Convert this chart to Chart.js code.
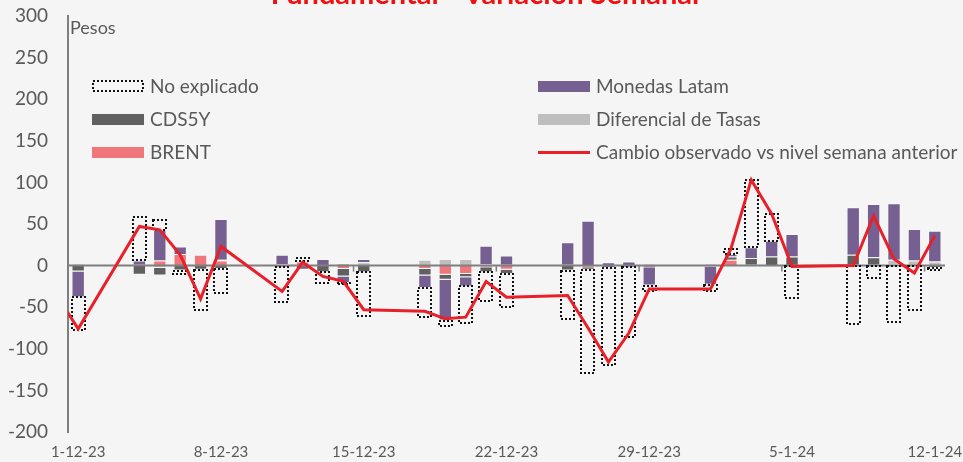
<!DOCTYPE html>
<html lang="es">
<head>
<meta charset="utf-8">
<title>Fundamental - Variación Semanal</title>
<script src="https://cdn.jsdelivr.net/npm/chart.js@4.4.1/dist/chart.umd.min.js"></script>
<style>
  html, body { margin: 0; padding: 0; background: #f5f5f5; }
  #grafico { display: block; }
</style>
</head>
<body>
<canvas id="grafico" width="963" height="462"></canvas>
<script>
// fechas (dias habiles) y componentes de la variacion semanal, en pesos
const fechas = ['30-11-23', '1-12-23', '4-12-23', '5-12-23', '6-12-23', '7-12-23', '8-12-23',
  '11-12-23', '12-12-23', '13-12-23', '14-12-23', '15-12-23',
  '18-12-23', '19-12-23', '20-12-23', '21-12-23', '22-12-23',
  '25-12-23', '26-12-23', '27-12-23', '28-12-23', '29-12-23',
  '1-1-24', '2-1-24', '3-1-24', '4-1-24', '5-1-24',
  '8-1-24', '9-1-24', '10-1-24', '11-1-24', '12-1-24'];

const brent       = [null, 2, 1, 6, 14, 13, 6, 2, 5, 0, -4, 0, -4, -11, -10, -2, -5, 0, -2, 0, 0, 2, 2, 7, 1, 0, 0, 0, 0, 1, 0, 0];
const difTasas    = [null, 0, 0, -3, 0, 0, 1, 0, 0, 0, 3, 4, 7, 8, 8, 2, 1, 1, 0, 0, 0, 0, 0, 0, 0, 0, 0, 1, 1, 6, 6, 5];
const cds5y       = [null, -7, -11, -9, -6, -5, -4, -2, 0, -8, -9, -8, -8, -6, -4, -6, -5, -6, -3, -3, -2, -2, -1, 4, 8, 11, 11, 12, 9, 0, 0, -3];
const monedas     = [null, -31, 5, 37, 9, 0, 49, 11, -5, 8, -8, 4, -15, -49, -11, 22, 11, 27, 54, 4, 5, -22, -22, 3, 13, 19, 27, 57, 64, 68, 38, 37];
const noExplicado = [null, -40, 52, 12, -4, -48, -29, -42, 4, -13, -1, -53, -35, -6, -45, -35, -40, -58, -124, -117, -84, -6, -7, 6, 81, 32, -39, -70, -14, -67, -53, -3];
const cambio      = [-38, -76, 47, 43, 13, -40, 23, -31, 4, -13, -19, -53, -55, -64, -62, -19, -38, -36, -75, -116, -81, -28, -28, 20, 103, 62, -1, 0, 60, 8, -9, 36];

const etiquetasX = ['1-12-23', '8-12-23', '15-12-23', '22-12-23', '29-12-23', '5-1-24', '12-1-24'];
const ticksY = [-200, -150, -100, -50, 0, 50, 100, 150, 200, 250, 300];

const ordenLeyenda = ['No explicado', 'CDS5Y', 'BRENT', 'Monedas Latam', 'Diferencial de Tasas', 'Cambio observado vs nivel semana anterior'];

// dias corridos desde el 1-12-23
function diaIndex(s) {
  const [d, m, a] = s.split('-').map(Number);
  return Math.round((Date.UTC(2000 + a, m - 1, d) - Date.UTC(2023, 11, 1)) / 864e5);
}

function serie(valores) {
  return fechas.map((f, i) => ({ x: diaIndex(f), y: valores[i] })).filter(p => p.y !== null);
}

const gris = '#595959';

// cajas punteadas del "No explicado", linea del cero y marcas semanales
const detalles = {
  id: 'detalles',
  beforeDatasetDraw(chart, args) {
    if (args.meta.type !== 'line') return;
    const { ctx, chartArea, scales } = chart;
    const y0 = scales.y.getPixelForValue(0);
    ctx.save();
    ctx.strokeStyle = '#7f7f7f';
    ctx.lineWidth = 2;
    ctx.beginPath();
    ctx.moveTo(chartArea.left, y0);
    ctx.lineTo(chartArea.right, y0);
    ctx.stroke();

    ctx.lineWidth = 1.5;
    etiquetasX.slice(2).forEach(e => {
      const x = scales.x.getPixelForValue(diaIndex(e) - 0.5);
      ctx.beginPath();
      ctx.moveTo(x, y0);
      ctx.lineTo(x, y0 + 6);
      ctx.stroke();
    });

    const idx = chart.data.datasets.findIndex(d => d.label === 'No explicado');
    const meta = chart.getDatasetMeta(idx);
    ctx.strokeStyle = '#111';
    ctx.lineWidth = 2;
    ctx.setLineDash([2, 2]);
    meta.data.forEach(el => {
      const { x, y, base, width } = el.getProps(['x', 'y', 'base', 'width'], true);
      const h = Math.round(Math.abs(base - y));
      if (h < 1) return;
      ctx.strokeRect(Math.round(x - width / 2), Math.round(Math.min(y, base)), Math.round(width), h);
    });
    ctx.restore();
  }
};

// leyenda en dos columnas dentro del area del grafico, titulo y unidad
const leyenda = {
  id: 'leyenda',
  afterDraw(chart) {
    const ctx = chart.ctx;
    const filas = [86, 119, 152];
    const columnas = [92, 538];
    ctx.save();
    ordenLeyenda.forEach((nombre, i) => {
      const d = chart.data.datasets.find(x => x.label === nombre);
      const x0 = columnas[Math.floor(i / 3)];
      const y0 = filas[i % 3];
      if (d.type === 'line') {
        ctx.strokeStyle = d.borderColor;
        ctx.lineWidth = 3;
        ctx.beginPath();
        ctx.moveTo(x0, y0 + 0.5);
        ctx.lineTo(x0 + 52, y0 + 0.5);
        ctx.stroke();
      } else if (nombre === 'No explicado') {
        ctx.strokeStyle = '#111';
        ctx.lineWidth = 2;
        ctx.setLineDash([2, 2]);
        ctx.strokeRect(x0 + 1, y0 - 5, 50, 10);
        ctx.setLineDash([]);
      } else {
        ctx.fillStyle = d.backgroundColor;
        ctx.fillRect(x0, y0 - 5, 52, 11);
      }
      ctx.fillStyle = gris;
      ctx.font = '19px Lato';
      ctx.textAlign = 'left';
      ctx.textBaseline = 'middle';
      ctx.fillText(nombre, x0 + 58, y0 + 1);
    });

    ctx.font = '18px Lato';
    ctx.fillStyle = gris;
    ctx.textBaseline = 'middle';
    ctx.fillText('Pesos', chart.chartArea.left + 2, 28);

    ctx.font = 'bold 29px Lato';
    ctx.fillStyle = '#f01010';
    ctx.textAlign = 'center';
    ctx.textBaseline = 'alphabetic';
    ctx.fillText('Fundamental - Variación Semanal', 485, 4);
    ctx.restore();
  }
};

Chart.defaults.font.family = 'Lato';

const barra = (label, valores, color) => ({
  type: 'bar',
  label: label,
  data: serie(valores),
  backgroundColor: color,
  borderColor: 'rgba(255,255,255,0.35)',
  borderWidth: 1,
  barPercentage: 0.82,
  categoryPercentage: 0.8,
  order: 1
});

new Chart(document.getElementById('grafico'), {
  data: {
    datasets: [
      {
        type: 'line',
        label: 'Cambio observado vs nivel semana anterior',
        data: serie(cambio),
        borderColor: '#e8202a',
        borderWidth: 3,
        pointRadius: 0,
        tension: 0,
        order: 0
      },
      barra('BRENT', brent, '#ef767a'),
      barra('Diferencial de Tasas', difTasas, '#bebebe'),
      barra('CDS5Y', cds5y, '#606060'),
      barra('Monedas Latam', monedas, '#766091'),
      Object.assign(barra('No explicado', noExplicado, 'rgba(0,0,0,0)'), { borderWidth: 0 })
    ]
  },
  options: {
    responsive: false,
    animation: false,
    layout: { padding: { top: 16, right: 18, bottom: 0, left: 0 } },
    plugins: {
      legend: { display: false },
      tooltip: { enabled: false }
    },
    scales: {
      x: {
        type: 'linear',
        stacked: true,
        offset: false,
        min: -0.5,
        max: 42.5,
        afterBuildTicks: s => { s.ticks = etiquetasX.map(e => ({ value: diaIndex(e) })); },
        afterFit: s => { s.height = 30; s.paddingLeft = 0; s.paddingRight = 0; },
        ticks: {
          callback: (v, i) => etiquetasX[i],
          color: gris,
          font: { size: 15 },
          padding: 11,
          maxRotation: 0,
          autoSkip: false
        },
        grid: { display: false, drawTicks: false, offset: false },
        border: { display: false }
      },
      y: {
        stacked: true,
        min: -200,
        max: 300,
        afterBuildTicks: s => { s.ticks = ticksY.map(v => ({ value: v })); },
        afterFit: s => { s.width = 68; s.paddingTop = 0; s.paddingBottom = 0; },
        ticks: { color: gris, font: { size: 19 }, padding: 20 },
        grid: { display: false, drawTicks: false },
        border: { color: '#7f7f7f', width: 2 }
      }
    }
  },
  plugins: [detalles, leyenda]
});
</script>
</body>
</html>
